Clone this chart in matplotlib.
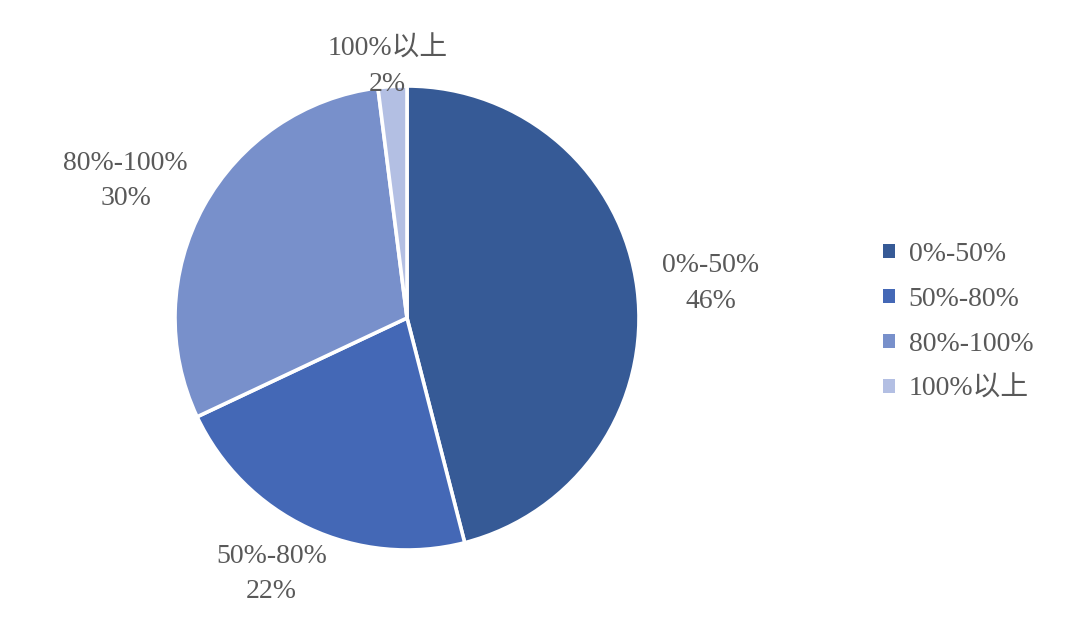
import numpy as np
import matplotlib
matplotlib.use('Agg')
import matplotlib.pyplot as plt
from matplotlib.patches import Patch

plt.rcParams['font.family'] = ['Liberation Serif', 'Noto Sans CJK SC']

# data
categories = ['0%-50%', '50%-80%', '80%-100%', '100%以上']
shares = [46, 22, 30, 2]
pct_labels = ['46%', '22%', '30%', '2%']
colors = ['#365A96', '#4468B6', '#7890CB', '#B3BFE3']
label_dist = [1.32, 1.22, 1.36, 1.12]
label_nudge = [(0, -4), (-15, 0), (-5, -15), (-3, -8)]  # pixels

text_color = '#595959'

fig = plt.figure(figsize=(10.8, 6.32), dpi=100)
cx, cy, r = 407, 318, 232
ax = fig.add_axes([(cx - r) / 1080, (632 - cy - r) / 632, 2 * r / 1080, 2 * r / 632])

wedges, _ = ax.pie(shares, colors=colors, startangle=90, counterclock=False,
                   radius=1.0, wedgeprops=dict(edgecolor='white', linewidth=2.6))
ax.set_xlim(-1, 1)
ax.set_ylim(-1, 1)
ax.set_aspect('equal')
ax.axis('off')

# data labels outside the pie
for w, cat, pct, d, nd in zip(wedges, categories, pct_labels, label_dist, label_nudge):
    ang = np.deg2rad((w.theta1 + w.theta2) / 2)
    ax.annotate(cat + '\n' + pct, xy=(d * np.cos(ang), d * np.sin(ang)),
                xytext=nd, textcoords='offset pixels',
                ha='center', va='center', fontsize=20, color=text_color,
                linespacing=1.55, annotation_clip=False)

handles = [Patch(facecolor=c, edgecolor='none') for c in colors]
leg = fig.legend(handles, categories, loc='center left',
                 bbox_to_anchor=(858 / 1080, 1 - 322 / 632),
                 frameon=False, fontsize=20, handlelength=0.42, handleheight=0.42,
                 handletextpad=0.5, labelspacing=0.72)
for t in leg.get_texts():
    t.set_color(text_color)

fig.savefig('out.png', dpi=100, facecolor='white')
